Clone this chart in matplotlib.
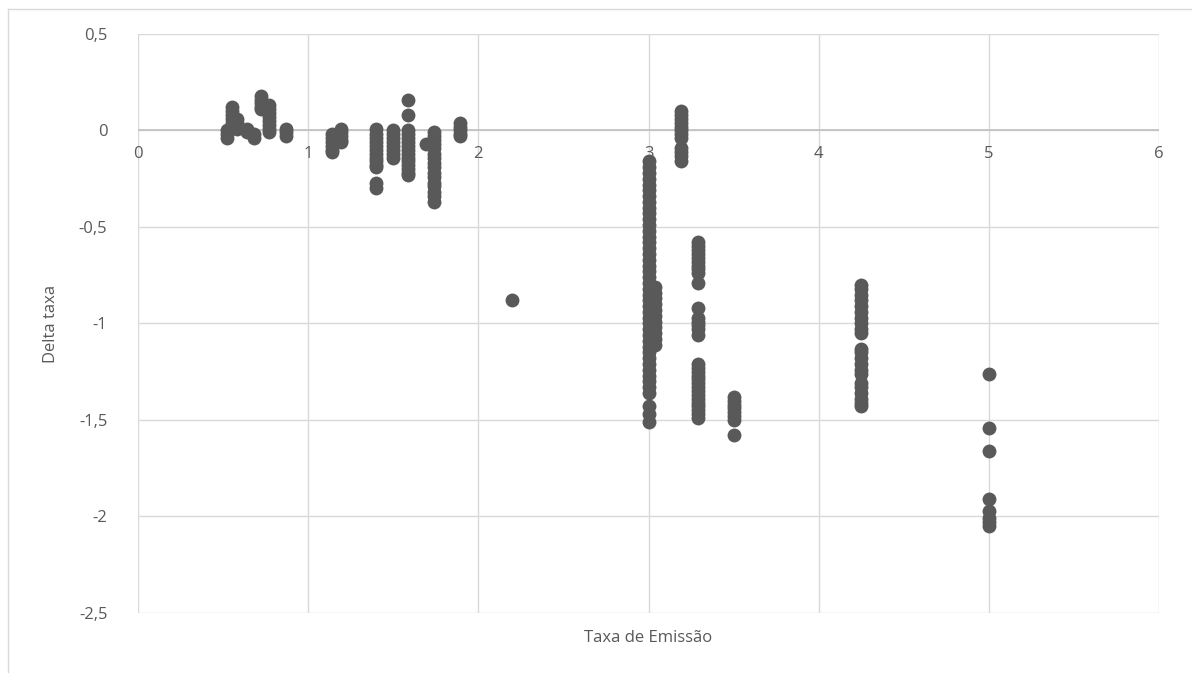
import matplotlib.pyplot as plt
from matplotlib.ticker import FuncFormatter, MultipleLocator
from matplotlib.lines import Line2D

# taxa de emissao (x) for each vertical group of points
taxa = [0.52, 0.55, 0.58, 0.64, 0.68, 0.72, 0.77, 0.87,
        1.14, 1.19, 1.40, 1.50, 1.585, 1.69, 1.74, 1.89,
        2.20, 3.00, 3.04, 3.19, 3.29, 3.50, 4.25, 5.00]

# delta taxa values, one list per group
delta = [
    [0.0, -0.02, -0.04],
    [0.12, 0.10, 0.08, 0.06, 0.04, 0.02],
    [0.06, 0.04, 0.02, 0.01],
    [0.01, -0.01],
    [-0.02, -0.04],
    [0.18, 0.16, 0.14, 0.12, 0.11],
    [0.13, 0.11, 0.09, 0.07, 0.05, 0.03, 0.01, -0.01],
    [0.01, -0.01, -0.03],
    [-0.02, -0.04, -0.06, -0.08, -0.10, -0.11],
    [0.01, -0.01, -0.03, -0.05, -0.06],
    [0.01, -0.02, -0.04, -0.06, -0.08, -0.10, -0.12, -0.14, -0.16, -0.18,
     -0.19, -0.27, -0.30],
    [0.0, -0.02, -0.04, -0.06, -0.08, -0.10, -0.12, -0.14],
    [0.16, 0.08, 0.0, -0.02, -0.04, -0.06, -0.08, -0.10, -0.12, -0.14,
     -0.16, -0.18, -0.20, -0.22, -0.23],
    [-0.07],
    [-0.01, -0.03, -0.05, -0.07, -0.09, -0.12, -0.14, -0.17, -0.19, -0.22,
     -0.24, -0.27, -0.29, -0.32, -0.34, -0.37],
    [0.04, 0.02, 0.0, -0.02, -0.03],
    [-0.88],
    [-0.16, -0.19, -0.22, -0.25, -0.28, -0.31, -0.34, -0.37, -0.40, -0.43,
     -0.46, -0.49, -0.52, -0.55, -0.58, -0.61, -0.64, -0.67, -0.70, -0.73,
     -0.76, -0.79, -0.82, -0.85, -0.88, -0.91, -0.94, -0.97, -1.00, -1.03,
     -1.06, -1.09, -1.12, -1.15, -1.18, -1.21, -1.24, -1.27, -1.30, -1.33,
     -1.36, -1.43, -1.47, -1.51],
    [-0.81, -0.84, -0.87, -0.90, -0.93, -0.96, -0.99, -1.02, -1.05, -1.08,
     -1.11],
    [0.10, 0.08, 0.06, 0.04, 0.02, 0.0, -0.02, -0.04, -0.09, -0.11, -0.13,
     -0.16],
    [-0.58, -0.60, -0.62, -0.64, -0.66, -0.68, -0.70, -0.72, -0.74, -0.79,
     -0.92, -0.97, -0.99, -1.01, -1.03, -1.06, -1.21, -1.23, -1.25, -1.27,
     -1.29, -1.31, -1.33, -1.35, -1.37, -1.39, -1.41, -1.43, -1.45, -1.47,
     -1.49],
    [-1.38, -1.40, -1.42, -1.44, -1.46, -1.48, -1.50, -1.58],
    [-0.80, -0.82, -0.85, -0.88, -0.91, -0.94, -0.97, -1.00, -1.03, -1.05,
     -1.13, -1.15, -1.18, -1.21, -1.24, -1.26, -1.31, -1.33, -1.36, -1.39,
     -1.41, -1.43],
    [-1.26, -1.54, -1.66, -1.91, -1.97, -2.01, -2.03, -2.05],
]

xs = []
ys = []
for t, d in zip(taxa, delta):
    xs += [t] * len(d)
    ys += d

grey = '#595959'
grid = '#d9d9d9'

plt.rcParams['font.family'] = ['Open Sans', 'DejaVu Sans']

fig = plt.figure(figsize=(11.92, 6.73), dpi=100)
ax = fig.add_axes([0.1158, 0.0892, 0.8565, 0.8603])

ax.scatter(xs, ys, s=100, color=grey, linewidths=0, zorder=3, clip_on=False)

ax.set_xlim(0, 6)
ax.set_ylim(-2.5, 0.5)
ax.xaxis.set_major_locator(MultipleLocator(1))
ax.yaxis.set_major_locator(MultipleLocator(0.5))
fmt = FuncFormatter(lambda v, p: ('%g' % v).replace('.', ','))
ax.xaxis.set_major_formatter(fmt)
ax.yaxis.set_major_formatter(fmt)

ax.grid(True, color=grid, linewidth=1)
ax.set_axisbelow(True)
for s in ax.spines.values():
    s.set_visible(False)
ax.axhline(0, color='#bfbfbf', linewidth=1.2, zorder=2)

# x labels sit just under the zero line, like excel
ax.tick_params(length=0, colors=grey, labelsize=12)
ax.tick_params(axis='y', pad=22)
for lbl in ax.get_xticklabels():
    lbl.set_visible(False)
for v in range(0, 7):
    ax.text(v, -0.08, str(v), ha='center', va='top', color=grey, fontsize=12)

ax.set_xlabel('Taxa de Emiss\u00e3o', color=grey, fontsize=12)
ax.set_ylabel('Delta taxa', color=grey, fontsize=12, labelpad=14)
ax.xaxis.set_label_coords(0.5, -0.03)

# outer chart border (top and left only visible)
fig.add_artist(Line2D([8 / 1192, 1], [1 - 9 / 673, 1 - 9 / 673], color=grid, lw=1))
fig.add_artist(Line2D([8 / 1192, 8 / 1192], [0, 1 - 9 / 673], color=grid, lw=1))

fig.savefig('out.png', dpi=100)
